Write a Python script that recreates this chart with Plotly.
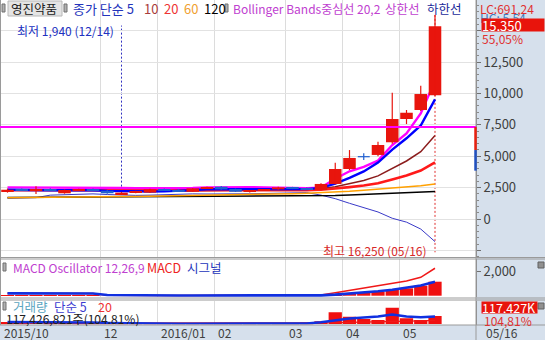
import plotly.graph_objects as go

W, H = 545, 340

# ---------------- data (weekly, 2015/10/19 .. 2016/05/16) ----------------
week_labels = ['10/19', '10/26', '11/02', '11/09', '11/16', '11/23', '11/30', '12/07', '12/14', '12/21', '12/28',
               '01/04', '01/11', '01/18', '01/25', '02/01', '02/08', '02/15', '02/22', '02/29', '03/07', '03/14',
               '03/21', '03/28', '04/04', '04/11', '04/18', '04/25', '05/02', '05/09', '05/16']
opens = [2150, 2360, 2290, 2390, 2050, 2300, 2390, 2250, 1960, 2100, 2100, 2360, 2300, 2170, 2440, 2570,
         2390, 2170, 2260, 2360, 2520, 2420, 2310, 2790, 3980, 4960, 5100, 6110, 7960, 8680, 9850]
highs = [2420, 2430, 2600, 2450, 2350, 2400, 2420, 2300, 2150, 2250, 2400, 2420, 2380, 2470, 2560, 2620,
         2420, 2300, 2380, 2560, 2560, 2500, 2850, 4480, 5490, 5230, 6150, 10060, 8680, 10610, 16250]
lows = [2100, 2230, 2000, 2230, 2020, 2250, 2200, 2020, 1940, 2060, 2080, 2250, 2150, 2150, 2380, 2330,
        2150, 2120, 2220, 2330, 2380, 2300, 2280, 2750, 3900, 4700, 5000, 6000, 7560, 8600, 9800]
closes = [2330, 2260, 2310, 2260, 2310, 2350, 2230, 2050, 2100, 2200, 2360, 2300, 2200, 2440, 2520, 2360,
          2170, 2260, 2330, 2520, 2420, 2350, 2790, 3980, 4860, 4960, 5890, 7960, 8460, 9950, 15350]

ma5 = [2330, 2300, 2290, 2290, 2294, 2298, 2292, 2240, 2208, 2186, 2188, 2202, 2232, 2300, 2364, 2364,
       2338, 2350, 2328, 2328, 2340, 2376, 2482, 2812, 3280, 3788, 4496, 5530, 6426, 7444, 9522]
ma10 = [2300, 2290, 2280, 2280, 2280, 2280, 2280, 2270, 2250, 2240, 2243, 2247, 2236, 2254, 2275, 2276,
        2270, 2291, 2314, 2346, 2352, 2357, 2416, 2570, 2804, 3064, 3436, 4006, 4619, 5362, 6655]
ma20 = [2290, 2290, 2290, 2290, 2290, 2290, 2290, 2285, 2280, 2275, 2270, 2265, 2260, 2260, 2265, 2270,
        2275, 2280, 2285, 2293, 2298, 2302, 2326, 2412, 2540, 2670, 2853, 3149, 3467, 3854, 4504]
ma60 = [1690, 1710, 1725, 1735, 1745, 1755, 1765, 1775, 1790, 1800, 1815, 1830, 1845, 1860, 1875, 1890,
        1900, 1930, 1960, 1990, 2020, 2050, 2080, 2120, 2200, 2290, 2370, 2470, 2560, 2650, 2785]
ma120 = [1720, 1725, 1730, 1735, 1740, 1745, 1750, 1755, 1760, 1765, 1770, 1775, 1780, 1785, 1790, 1795,
         1800, 1805, 1810, 1815, 1820, 1825, 1835, 1870, 1910, 1950, 1990, 2040, 2080, 2110, 2180]
bb_upper = [2520, 2520, 2530, 2520, 2510, 2500, 2490, 2480, 2470, 2460, 2460, 2460, 2450, 2470, 2520, 2540,
            2540, 2530, 2520, 2500, 2480, 2460, 2500, 3200, 3800, 4150, 4650, 5890, 6820, 8410, 11000]
bb_lower = [1650, 1660, 1700, 1900, 1950, 1980, 2000, 1950, 1900, 1880, 1900, 1950, 1980, 2000, 1990, 1980,
            1990, 2010, 2030, 2060, 2080, 2100, 1900, 1620, 1250, 880, 560, 60, -250, -800, -1800]

macd = [200, 200, 195, 190, 185, 180, 170, 40, 20, 10, 10, 10, 10, 15, 20, 20,
        15, 15, 15, 20, 25, 30, 60, 250, 450, 600, 820, 1050, 1200, 1500, 2240]
macd_signal = [190, 195, 195, 192, 190, 187, 183, 60, 40, 30, 25, 20, 18, 17, 17, 17,
               16, 16, 16, 17, 18, 20, 30, 90, 170, 250, 360, 490, 640, 830, 1140]
macd_osc = [20, 10, 5, 5, 5, 5, 5, 0, 0, 0, 0, 0, 0, 0, 5, 5,
            0, 0, 0, 5, 5, 10, 40, 114, 163, 245, 326, 465, 600, 816, 1142]

volume_m = [28, 25, 30, 22, 20, 18, 15, 8, 10, 7, 6, 6, 5, 6, 7, 5,
            4, 5, 5, 6, 6, 15, 40, 172, 108, 74, 59, 240, 84, 59, 117.4]
vol_ma5 = [30, 30, 30, 29, 28, 25, 22, 16, 12, 10, 8, 7, 6, 6, 6, 6,
           6, 5, 5, 5, 5, 7, 25, 55, 80, 95, 110, 140, 110, 100, 110]
vol_ma20 = [15, 15, 15, 15, 15, 15, 15, 14, 13, 12, 12, 11, 11, 11, 10, 10,
            9, 9, 8, 8, 8, 8, 10, 18, 23, 26, 29, 40, 44, 47, 52]

month_start_idx = [0, 7, 11, 15, 20, 24, 28]
month_labels = ['2015/10', '12', '2016/01', '02', '03', '04', '05']
price_ticks = [-2500, 0, 2500, 5000, 7500, 10000, 12500, 15000]
price_tick_text = ['', '0', '2,500', '5,000', '7,500', '10,000', '12,500', '']
macd_ticks = [2000]
macd_tick_text = ['2,000']

hline_price = 7320
gauge_up = [7320, 5490]
gauge_down = [5490, 3850]
low_idx, low_val = 8, 1940
high_idx, high_val = 30, 16250

# ---------------- geometry ----------------
PLOT_R = 476
X_RANGE = [-0.526, 32.877]
MAIN_RANGE = [-3025, 17436]
MACD_RANGE = [-106, 2995]
VOL_RANGE = [-7.35, 345]

FONT = 'Noto Sans CJK KR'
UP = '#e8150d'
DOWN = '#2060d0'


def xp(p):
    return p / W


def yp(p):
    return 1 - p / H


x = list(range(len(closes)))
fig = go.Figure()


def add_line(y, color, width, xa='x', ya='y'):
    fig.add_trace(go.Scatter(x=x, y=y, mode='lines', line=dict(color=color, width=width),
                             xaxis=xa, yaxis=ya, hoverinfo='skip'))


# main panel lines (base layer, beneath candles)
add_line(bb_lower, '#3a3ac8', 1)
add_line(ma120, '#000000', 1.5)
add_line(ma60, '#ffa000', 1.5)
add_line(ma10, '#8b1c1c', 1.5)
add_line(ma20, '#ff1a1a', 2.6)
add_line(bb_upper, '#ff00ff', 2.4)
add_line(ma5, '#0000ff', 2.4)

# candles on overlay axis (drawn above lines)
colors = [UP if c > o else DOWN for o, c in zip(opens, closes)]
fig.add_trace(go.Bar(x=x, y=[abs(c - o) for o, c in zip(opens, closes)],
                     base=[min(o, c) for o, c in zip(opens, closes)],
                     width=0.88, marker=dict(color=colors, line=dict(width=0)),
                     xaxis='x', yaxis='y4', hoverinfo='skip'))
for col in (UP, DOWN):
    wx, wy = [], []
    for i in x:
        if colors[i] != col:
            continue
        wx += [i, i, None]
        wy += [lows[i], highs[i], None]
        if opens[i] == closes[i]:
            wx += [i - 0.42, i + 0.42, None]
            wy += [opens[i], opens[i], None]
    fig.add_trace(go.Scatter(x=wx, y=wy, mode='lines', line=dict(color=col, width=1.2),
                             xaxis='x', yaxis='y4', hoverinfo='skip'))

# MACD panel
fig.add_trace(go.Bar(x=x, y=macd_osc, width=0.93, marker=dict(color='#f01010', line=dict(width=0)),
                     xaxis='x2', yaxis='y2', hoverinfo='skip'))
add_line(macd, '#f01818', 1.5, 'x2', 'y2')
add_line(macd_signal, '#1030e0', 2.6, 'x2', 'y2')

# volume panel
fig.add_trace(go.Bar(x=x, y=volume_m, width=0.93, marker=dict(color='#f01010', line=dict(width=0)),
                     xaxis='x3', yaxis='y3', hoverinfo='skip'))
add_line(vol_ma20, '#f01818', 1.2, 'x3', 'y3')
add_line(vol_ma5, '#1030e0', 2.4, 'x3', 'y3')

# ---------------- axes ----------------
grid_x = [i - 0.5 for i in month_start_idx]
xcommon = dict(range=X_RANGE, domain=[0, PLOT_R / W], tickmode='array', tickvals=grid_x,
               showticklabels=False, showgrid=True, gridcolor='#dcdcdc', gridwidth=1,
               zeroline=False, showline=False, ticks='', fixedrange=True)
tickfont = dict(family=FONT, size=13, color='#404040')

fig.update_layout(
    width=W, height=H, margin=dict(l=0, r=0, t=0, b=0),
    paper_bgcolor='white', plot_bgcolor='white', showlegend=False,
    font=dict(family=FONT, size=12), barmode='overlay',
    xaxis=dict(**xcommon, anchor='y'),
    xaxis2=dict(**xcommon, anchor='y2', matches='x'),
    xaxis3=dict(**xcommon, anchor='y3', matches='x'),
    yaxis=dict(domain=[yp(257), 1], range=MAIN_RANGE, side='right', anchor='x',
               tickmode='array', tickvals=price_ticks, ticktext=price_tick_text,
               ticks='outside', ticklen=4, tickcolor='#707070', tickfont=tickfont,
               showgrid=True, gridcolor='#e2e2e2', zeroline=False,
               showline=True, linecolor='#8a8a8a', fixedrange=True,
               minor=dict(dtick=500, tick0=0, ticks='outside', ticklen=2, tickcolor='#8a8a8a', showgrid=False)),
    yaxis4=dict(overlaying='y', range=MAIN_RANGE, visible=False, anchor='x', fixedrange=True),
    yaxis2=dict(domain=[yp(297), yp(259)], range=MACD_RANGE, side='right', anchor='x2',
                tickmode='array', tickvals=macd_ticks, ticktext=macd_tick_text,
                ticks='outside', ticklen=4, tickcolor='#707070', tickfont=tickfont,
                showgrid=False, zeroline=False, showline=True, linecolor='#8a8a8a', fixedrange=True),
    yaxis3=dict(domain=[yp(324.5), yp(300.5)], range=VOL_RANGE, side='right', anchor='x3',
                showticklabels=False, ticks='', showgrid=False, zeroline=False,
                showline=True, linecolor='#8a8a8a', fixedrange=True),
)

# ---------------- shapes ----------------
BG = '#d6e0ec'
SEP = '#9a9a9a'
shapes = [
    dict(type='rect', xref='paper', yref='paper', x0=xp(PLOT_R), x1=1, y0=yp(325), y1=1,
         fillcolor=BG, line=dict(width=0), layer='below'),
    dict(type='rect', xref='paper', yref='paper', x0=0, x1=1, y0=0, y1=yp(325),
         fillcolor=BG, line=dict(width=0), layer='below'),
]
for yy in (257.5, 259, 298, 300, 325):
    shapes.append(dict(type='line', xref='paper', yref='paper', x0=0, x1=1, y0=yp(yy), y1=yp(yy),
                       line=dict(color=SEP, width=1), layer='above'))
shapes.append(dict(type='line', xref='paper', yref='paper', x0=xp(0.5), x1=xp(0.5), y0=yp(325), y1=1,
                   line=dict(color=SEP, width=1), layer='above'))
shapes.append(dict(type='line', xref='paper', yref='paper', x0=xp(PLOT_R), x1=xp(PLOT_R), y0=0, y1=1,
                   line=dict(color=SEP, width=1), layer='above'))
# dashed low / high markers
shapes.append(dict(type='line', xref='x', yref='y', x0=low_idx, x1=low_idx, y0=low_val, y1=15400,
                   line=dict(color='#3030c0', width=1, dash='2px,2px'), layer='below'))
shapes.append(dict(type='line', xref='x', yref='y', x0=high_idx, x1=high_idx, y0=high_val, y1=-2650,
                   line=dict(color='#e03030', width=1, dash='2px,2px'), layer='below'))
# horizontal price line and gauge
shapes.append(dict(type='line', xref='x', yref='y', x0=X_RANGE[0], x1=X_RANGE[1], y0=hline_price, y1=hline_price,
                   line=dict(color='#ff00ff', width=2), layer='above'))
shapes.append(dict(type='line', xref='paper', yref='y', x0=xp(475.5), x1=xp(475.5), y0=gauge_up[0], y1=gauge_up[1],
                   line=dict(color='#e82010', width=2.5), layer='above'))
shapes.append(dict(type='line', xref='paper', yref='y', x0=xp(475.5), x1=xp(475.5), y0=gauge_down[0], y1=gauge_down[1],
                   line=dict(color='#2050c0', width=2.5), layer='above'))
# small handles
for hx, hy in ((2, 8), (64, 8), (225, 8), (3, 267), (3, 306)):
    shapes.append(dict(type='rect', xref='paper', yref='paper', x0=xp(hx), x1=xp(hx + 3),
                       y0=yp(hy + 4), y1=yp(hy - 4), fillcolor='#b0b0b0', line=dict(color='#707070', width=1),
                       layer='above'))
# stock name box
shapes.append(dict(type='rect', xref='paper', yref='paper', x0=xp(8), x1=xp(62), y0=yp(16), y1=yp(1),
                   fillcolor='#e4e4e4', line=dict(color='#b8b8b8', width=1), layer='above'))
# small close boxes
for by in (262, 303):
    shapes.append(dict(type='rect', xref='paper', yref='paper', x0=xp(538), x1=xp(544), y0=yp(by + 6), y1=yp(by),
                       fillcolor='#909090', line=dict(color='#606060', width=1), layer='above'))
fig.update_layout(shapes=shapes)

# ---------------- annotations ----------------
anns = []


def ann(text, px_, py_, color, size=12.5, **kw):
    d = dict(text=text, x=xp(px_), y=yp(py_), xref='paper', yref='paper', xanchor='left', yanchor='middle',
             showarrow=False, font=dict(family=FONT, size=size, color=color), borderpad=0)
    d.update(kw)
    anns.append(d)


# legend row
ann('영진약품', 10, 8.5, '#202020')
ann('종가 단순 5', 72, 8.5, '#2233bb', size=13)
ann('10', 143, 8.5, '#a83c3c', size=13)
ann('20', 163, 8.5, '#ee3333', size=13)
ann('60', 183, 8.5, '#f0a030', size=13)
ann('120', 203, 8.5, '#000000', size=13)
ann('Bollinger Bands중심선 20,2', 232, 8.5, '#c040d0', size=12)
ann('상한선', 384, 8.5, '#c040d0')
ann('하한선', 426, 8.5, '#1a2a9a')

# right side labels main
ann('LC:691,24', 479, 8, '#e03030', size=12)
ann('HC: 5,54', 479, 17, '#3a7ac0', size=12)
ann('15,350', 481, 25.5, '#ffffff', size=13, bgcolor='#e8140c', width=62, height=12, align='left')
ann('55,05%', 481, 38.5, '#e03030', size=12)

# low / high notes
anns.append(dict(text='최저 1,940 (12/14)', x=low_idx, y=yp(30), xref='x', yref='paper', xanchor='right',
                 yanchor='middle', xshift=-6, showarrow=False, font=dict(family=FONT, size=12, color='#2030c0')))
anns.append(dict(text='최고 16,250 (05/16)', x=high_idx, y=yp(250), xref='x', yref='paper', xanchor='right',
                 yanchor='middle', xshift=-6, showarrow=False, font=dict(family=FONT, size=12, color='#d82828')))

# MACD legend
ann('MACD Oscillator 12,26,9', 12, 267.5, '#c040d0', size=12)
ann('MACD', 146, 267.5, '#ee2222')
ann('시그널', 186, 267.5, '#2233bb')

# volume legend
ann('거래량', 12, 306, '#5aa5c0')
ann('단순 5', 53, 306, '#3a3ad0')
ann('20', 97, 306, '#ee3333')
ann('117,426,821주(104.81%)', 5, 318.5, '#202020', size=12)
ann('117,427K', 481, 307.5, '#ffffff', size=12.5, bgcolor='#e8140c', width=55, height=11, align='left')
ann('104,81%', 483, 320.5, '#e03030', size=12)

# bottom date labels
for idx, lab in zip(month_start_idx, month_labels):
    anns.append(dict(text=lab, x=idx - 0.5, y=yp(332), xref='x', yref='paper', xanchor='left',
                     yanchor='middle', xshift=2, showarrow=False, font=dict(family=FONT, size=12, color='#404040')))
ann('05/16', 485, 332, '#404040', size=12)

fig.update_layout(annotations=anns)

fig.write_html('out.html')
